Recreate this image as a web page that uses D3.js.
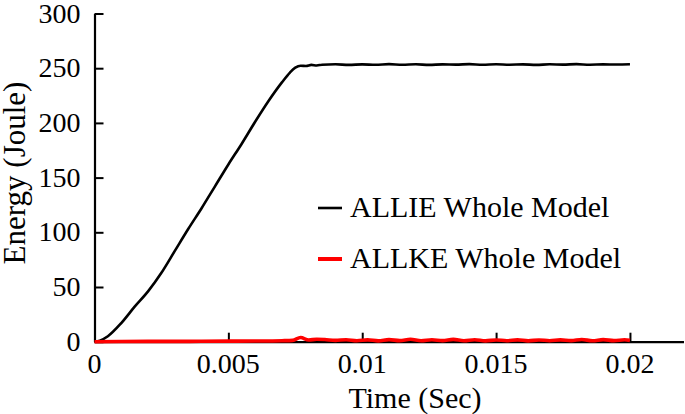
<!DOCTYPE html>
<html>
<head>
<meta charset="utf-8">
<script src="https://cdn.jsdelivr.net/npm/d3@7"></script>
<style>
    body { margin: 0; background: #fff; }
</style>
</head>
<body>
<svg id="chart"></svg>
<script>
// ALLIE (internal energy)
const allieTime = [0, 0.0002, 0.0005, 0.001, 0.0015, 0.002, 0.0025, 0.003, 0.0035, 0.004, 0.0045,
    0.005, 0.0055, 0.006, 0.0065, 0.007, 0.0073, 0.0075, 0.0077, 0.0079, 0.0081, 0.0083,
    0.0085, 0.009, 0.0095, 0.01, 0.0105, 0.011, 0.0115, 0.012, 0.0125, 0.013, 0.0135, 0.014,
    0.0145, 0.015, 0.0155, 0.016, 0.0165, 0.017, 0.0175, 0.018, 0.0185, 0.019, 0.0195, 0.02];
const allieEnergy = [0, 1, 5, 17, 32, 46, 63, 83, 103, 122, 142,
    162, 181, 201, 220, 237, 246, 250.5, 252.3, 252.0, 253, 252.5,
    253.2, 253.6, 253.0, 253.5, 253.1, 253.7, 253.2, 253.6, 253.0, 253.5, 253.3, 253.7,
    253.1, 253.6, 253.2, 253.5, 253.0, 253.6, 253.3, 253.7, 253.2, 253.5, 253.4, 253.6];

// ALLKE (kinetic energy)
const allkeTime = [0, 0.001, 0.002, 0.003, 0.004, 0.005, 0.006, 0.007, 0.0074, 0.0077, 0.008,
    0.0083, 0.0086, 0.009, 0.0094, 0.0098, 0.0102, 0.0106, 0.011, 0.0114, 0.0118, 0.0122,
    0.0126, 0.013, 0.0134, 0.0138, 0.0142, 0.0146, 0.015, 0.0154, 0.0158, 0.0162, 0.0166,
    0.017, 0.0174, 0.0178, 0.0182, 0.0186, 0.019, 0.0194, 0.0198, 0.02];
const allkeEnergy = [0, 0.2, 0.3, 0.3, 0.4, 0.5, 0.6, 0.9, 1.2, 3.8, 1.5,
    2.3, 2.0, 1.2, 1.8, 0.9, 1.7, 0.8, 1.9, 1.0, 2.2, 0.9,
    1.8, 1.0, 2.1, 0.9, 1.8, 0.8, 1.6, 0.9, 1.7, 0.8, 1.6,
    0.9, 1.7, 1.0, 2.0, 0.9, 1.9, 1.0, 1.8, 1.2];

const xTicks = [0, 0.005, 0.01, 0.015, 0.02];
const xTickLabels = ["0", "0.005", "0.01", "0.015", "0.02"];
const yTicks = [0, 50, 100, 150, 200, 250, 300];
const seriesNames = ["ALLIE Whole Model", "ALLKE Whole Model"];
const seriesColors = ["#000000", "#ff0000"];

const serif = '"Liberation Serif", serif';

class EnergyChart {
    constructor(_config) {
        this.config = {
            parentElement: _config.parentElement,
            containerWidth: _config.containerWidth || 685,
            containerHeight: _config.containerHeight || 414,
            margin: _config.margin || {top: 13.5, right: 1.5, bottom: 72.3, left: 94.5}
        };
        this.initVis();
    }

    initVis() {
        let vis = this;
        vis.width = vis.config.containerWidth - vis.config.margin.left - vis.config.margin.right;
        vis.height = vis.config.containerHeight - vis.config.margin.top - vis.config.margin.bottom;

        vis.svg = d3.select(vis.config.parentElement)
            .attr('width', vis.config.containerWidth)
            .attr('height', vis.config.containerHeight);

        vis.chart = vis.svg.append('g')
            .attr('transform', `translate(${vis.config.margin.left},${vis.config.margin.top})`);

        vis.xScale = d3.scaleLinear().domain([0, 0.022]).range([0, vis.width]);
        vis.yScale = d3.scaleLinear().domain([0, 300]).range([vis.height, 0]);

        vis.series = [
            allieTime.map((t, i) => ({t: t, v: allieEnergy[i]})),
            allkeTime.map((t, i) => ({t: t, v: allkeEnergy[i]}))
        ];

        vis.renderVis();
    }

    // text straight on the svg (nested text kept falling back to a sans font)
    addText(x, y, str, size, anchor) {
        return this.svg.append('text')
            .attr('x', x).attr('y', y)
            .attr('text-anchor', anchor || 'start')
            .style('font-family', serif)
            .style('font-size', size + 'px')
            .attr('fill', '#000')
            .text(str);
    }

    renderVis() {
        let vis = this;
        let m = vis.config.margin;

        // y axis, ticks pointing inward, labels drawn separately
        let yAxis = d3.axisLeft(vis.yScale).tickValues(yTicks).tickFormat('').tickSizeInner(-9).tickSizeOuter(0);
        let yG = vis.chart.append('g').call(yAxis);
        yG.select('.domain').attr('stroke-width', 2.2);
        yG.selectAll('.tick line').attr('stroke-width', 2);
        yTicks.forEach(d => vis.addText(m.left - 14, m.top + vis.yScale(d) + 9, String(d), 28, 'end'));

        // x axis
        let xAxis = d3.axisBottom(vis.xScale).tickValues(xTicks).tickFormat('').tickSizeInner(-9).tickSizeOuter(0);
        let xG = vis.chart.append('g').attr('transform', `translate(0,${vis.height})`).call(xAxis);
        xG.select('.domain').attr('stroke-width', 2.2);
        xG.selectAll('.tick line').attr('stroke-width', 2);
        xTicks.forEach((d, i) => vis.addText(m.left + vis.xScale(d), m.top + vis.height + 31, xTickLabels[i], 28, 'middle'));

        let line = d3.line()
            .x(d => vis.xScale(d.t))
            .y(d => vis.yScale(d.v))
            .curve(d3.curveMonotoneX);

        vis.chart.selectAll('.series')
            .data(vis.series)
            .enter()
            .append('path')
                .attr('class', 'series')
                .attr('d', line)
                .attr('fill', 'none')
                .attr('stroke', (d, i) => seriesColors[i])
                .attr('stroke-width', (d, i) => i === 0 ? 2.6 : 3.6)
                .attr('stroke-linejoin', 'round');

        // axis titles
        vis.addText(415, 408, 'Time (Sec)', 30, 'middle');
        vis.svg.append('text')
            .attr('transform', 'translate(25,173) rotate(-90)')
            .attr('text-anchor', 'middle')
            .style('font-family', serif).style('font-size', '31px')
            .text('Energy (Joule)');

        // legend
        seriesNames.forEach((name, i) => {
            let y = 208 + i * 51;
            vis.svg.append('line')
                .attr('x1', 318).attr('x2', 342).attr('y1', y).attr('y2', y)
                .attr('stroke', seriesColors[i])
                .attr('stroke-width', i === 0 ? 2.6 : 4);
            vis.addText(350, y + 9, name, 30);
        });
    }
}

let chart = new EnergyChart({parentElement: '#chart'});
</script>
</body>
</html>
